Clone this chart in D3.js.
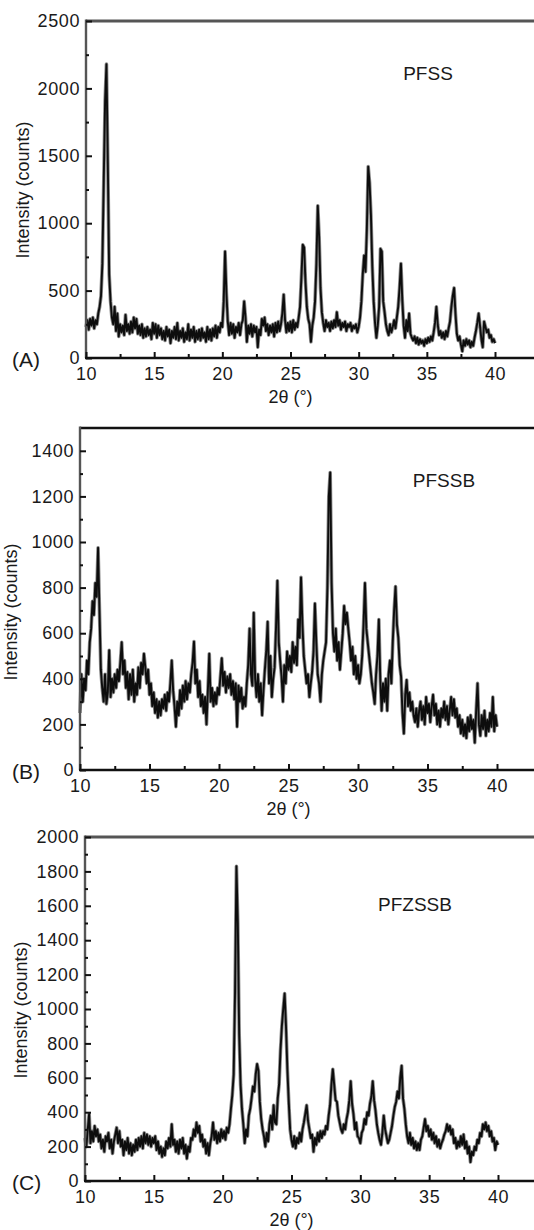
<html>
<head>
<script src="https://d3js.org/d3.v7.min.js"></script>
<style>
  body { margin: 0; background: #fff; }
  svg text { font-family: "Liberation Sans", Arial, Helvetica, sans-serif; fill: #1a1a1a; }
</style>
</head>
<body>
<svg id="chart" width="534" height="1230"></svg>
<script>
// scan grid: 10.0 to 40.0 degrees, 0.1 degree steps
const angleStart = 10;
const angleStep = 0.1;

const countsA = [
  230, 280, 210, 290, 240, 300, 220, 280, 250, 330,
  380, 460, 700, 1300, 1900, 2180, 1450, 620, 420, 300,
  250, 380, 200, 330, 160, 250, 190, 240, 170, 320,
  200, 250, 180, 270, 190, 300, 220, 290, 180, 240,
  170, 250, 150, 220, 160, 230, 170, 210, 140, 260,
  180, 250, 150, 240, 170, 220, 140, 200, 130, 230,
  160, 210, 110, 200, 150, 230, 140, 260, 130, 200,
  150, 220, 120, 190, 140, 250, 130, 210, 150, 230,
  120, 200, 140, 210, 130, 220, 150, 190, 120, 230,
  140, 210, 130, 220, 160, 240, 150, 230, 190, 260,
  230, 420, 790, 480, 270, 170, 260, 180, 250, 150,
  230, 190, 260, 170, 250, 280, 420, 300, 120, 240,
  180, 250, 160, 240, 190, 230, 80, 210, 170, 290,
  240, 300, 200, 250, 170, 240, 190, 250, 160, 260,
  190, 270, 200, 250, 330, 470, 280, 190, 260, 200,
  270, 190, 280, 210, 260, 230, 300, 380, 600, 840,
  820, 560, 380, 290, 250, 120, 240, 300, 420, 700,
  1130, 900, 520, 340, 260, 200, 280, 230, 260, 200,
  270, 220, 280, 230, 340, 240, 280, 210, 260, 230,
  270, 200, 250, 230, 260, 200, 240, 220, 250, 190,
  230, 300, 420, 620, 760, 640, 950, 1420, 1300, 1060,
  680, 420, 260, 150, 240, 380, 810, 790, 420, 340,
  250, 200, 170, 250, 190, 230, 280, 220, 300, 380,
  520, 700, 430, 240, 150, 280, 200, 330, 180, 150,
  130, 160, 110, 150, 100, 140, 110, 130, 90, 140,
  110, 150, 120, 160, 130, 190, 260, 380, 250, 170,
  200, 150, 190, 140, 200, 160, 220, 270, 380, 460,
  520, 330, 180, 130, 160, 100, 50, 130, 90, 140,
  100, 130, 80, 120, 90, 150, 200, 260, 330, 240,
  140, 80, 270, 230, 190, 210, 150, 170, 120, 140,
  110
];

const countsB = [
  250, 420, 300, 400, 350, 480, 420, 560, 620, 740,
  680, 820, 760, 975, 700, 440, 360, 300, 420, 290,
  340, 525, 320, 400, 340, 420, 360, 440, 390, 470,
  560, 420, 480, 360, 430, 310, 420, 330, 440, 300,
  380, 330, 450, 360, 470, 420, 510, 450, 380, 440,
  330, 380, 280, 340, 250, 310, 230, 300, 240, 310,
  270, 330, 260, 340, 300, 380, 480, 350, 280, 190,
  300, 240, 350, 270, 370, 300, 390, 310, 380, 340,
  420, 470, 563, 380, 440, 320, 390, 280, 330, 250,
  320, 200, 350, 510, 300, 360, 280, 340, 290, 360,
  330, 410, 490, 370, 430, 340, 410, 360, 420, 330,
  390, 310, 380, 190, 370, 300, 360, 270, 320, 280,
  380, 460, 620, 420, 370, 690, 400, 320, 420, 300,
  380, 240, 350, 440, 520, 650, 380, 500, 320, 400,
  450, 620, 830, 560, 480, 410, 300, 460, 380, 520,
  440, 500, 430, 560, 470, 540, 460, 660, 580, 845,
  640, 500, 440, 380, 420, 320, 380, 430, 520, 730,
  560, 420, 380, 300, 420, 480, 520, 560, 800, 1200,
  1305, 820, 600, 520, 620, 480, 560, 440, 520, 600,
  720, 640, 690, 620, 560, 480, 540, 420, 500, 400,
  460, 380, 420, 500, 640, 820, 620, 560, 500, 440,
  380, 340, 290, 420, 500, 660, 400, 260, 380, 300,
  400, 260, 420, 480, 380, 560, 700, 805, 640, 580,
  460, 410, 250, 160, 330, 395, 280, 340, 260, 300,
  240, 210, 270, 190, 260, 300, 220, 280, 200, 320,
  250, 290, 210, 280, 330, 240, 290, 200, 260, 190,
  270, 230, 300, 220, 280, 200, 260, 320, 240, 310,
  230, 270, 190, 240, 160, 220, 150, 200, 140, 230,
  170, 240, 180, 220, 120, 260, 380, 200, 150, 240,
  180, 260, 150, 220, 170, 250, 190, 320, 170, 240,
  190
];

const countsC = [
  250, 200, 300, 390, 220, 290, 230, 320, 260, 300,
  230, 270, 190, 240, 170, 260, 230, 280, 190, 240,
  160, 230, 270, 310, 220, 290, 200, 240, 150, 230,
  180, 250, 160, 220, 150, 210, 170, 240, 180, 250,
  200, 260, 190, 280, 220, 270, 210, 260, 200, 250,
  220, 260, 180, 230, 160, 200, 140, 190, 150, 230,
  190, 250, 200, 330, 210, 240, 170, 230, 160, 240,
  190, 250, 160, 210, 130, 200, 170, 250, 240, 300,
  260, 340, 280, 320, 230, 270, 200, 240, 160, 220,
  150, 220, 260, 340, 240, 290, 220, 280, 230, 300,
  250, 290, 240, 310, 280, 330, 420, 500, 620, 1100,
  1830, 1500, 850, 560, 420, 330, 220, 300, 260, 380,
  420, 480, 550, 520, 620, 680, 640, 460, 360, 300,
  260, 200, 280, 230, 330, 380, 300, 440, 340, 330,
  480, 560, 760, 900, 1000, 1090, 900, 650, 460, 300,
  240, 200, 260, 190, 250, 220, 280, 230, 300, 340,
  390, 440, 350, 300, 250, 270, 170, 250, 210, 280,
  230, 290, 250, 290, 270, 320, 300, 380, 440, 560,
  650, 560, 470, 460, 380, 340, 300, 280, 330, 300,
  360, 400, 470, 580, 450, 390, 300, 340, 260, 250,
  220, 280, 300, 360, 330, 400, 380, 450, 490, 580,
  470, 410, 330, 280, 240, 210, 280, 380, 300, 260,
  220, 240, 280, 320, 380, 430, 460, 520, 480, 600,
  670, 480, 420, 330, 260, 220, 280, 210, 250, 190,
  230, 180, 220, 180, 240, 260, 310, 360, 290, 320,
  260, 300, 240, 280, 220, 260, 200, 240, 190, 220,
  240, 270, 290, 330, 290, 320, 270, 300, 220, 250,
  190, 230, 200, 260, 210, 270, 190, 230, 160, 200,
  110, 170, 150, 200, 180, 240, 220, 280, 260, 330,
  300, 340, 290, 320, 260, 290, 230, 250, 180, 230,
  210
];

const xTicks = [10, 15, 20, 25, 30, 35, 40];
const xMinorTicks = [12.5, 17.5, 22.5, 27.5, 32.5, 37.5];
const yTicksA = [0, 500, 1000, 1500, 2000, 2500];
const yMinorA = [250, 750, 1250, 1750, 2250];
const yTicksB = [0, 200, 400, 600, 800, 1000, 1200, 1400];
const yMinorB = [100, 300, 500, 700, 900, 1100, 1300];
const yTicksC = [0, 200, 400, 600, 800, 1000, 1200, 1400, 1600, 1800, 2000];
const yMinorC = [100, 300, 500, 700, 900, 1100, 1300, 1500, 1700, 1900];
const sampleNames = ['PFSS', 'PFSSB', 'PFZSSB'];
const panelTags = ['(A)', '(B)', '(C)'];

const panels = [
  { counts: countsA, yMax: 2500, yTicks: yTicksA, yMinor: yMinorA,
    left: 86, right: 495, top: 21, bottom: 358, topColor: '#555', topWidth: 3.2,
    nameX: 428, nameY: 80, ylabX: 29, ylabY: 190 },
  { counts: countsB, yMax: 1500, yTicks: yTicksB, yMinor: yMinorB,
    left: 80, right: 497, top: 428, bottom: 770, topColor: '#111', topWidth: 2.4,
    nameX: 444, nameY: 487, ylabX: 17, ylabY: 612 },
  { counts: countsC, yMax: 2000, yTicks: yTicksC, yMinor: yMinorC,
    left: 85, right: 498, top: 837, bottom: 1181, topColor: '#555', topWidth: 3.2,
    nameX: 415, nameY: 911, ylabX: 27, ylabY: 1010 }
];

const svg = d3.select('#chart');
const plain = d3.format('d');

panels.forEach(function(p, i) {
  const x = d3.scaleLinear().domain([10, 40]).range([p.left, p.right]);
  const y = d3.scaleLinear().domain([0, p.yMax]).range([p.bottom, p.top]);
  const g = svg.append('g');

  // pattern: grey halo under a dark trace
  const line = d3.line()
    .x(function(d, j) { return x(angleStart + j * angleStep); })
    .y(function(d) { return y(d); });
  g.append('path').datum(p.counts)
    .attr('fill', 'none').attr('stroke', '#8c8c8c').attr('stroke-width', 3.6)
    .attr('stroke-linejoin', 'round').attr('d', line);
  g.append('path').datum(p.counts)
    .attr('fill', 'none').attr('stroke', '#0d0d0d').attr('stroke-width', 1.9)
    .attr('stroke-linejoin', 'round').attr('d', line);

  // frame: top, left, bottom
  g.append('line').attr('x1', p.left).attr('x2', 534).attr('y1', p.top).attr('y2', p.top)
    .attr('stroke', p.topColor).attr('stroke-width', p.topWidth);
  g.append('line').attr('x1', p.left).attr('x2', p.left).attr('y1', p.top - 1.5).attr('y2', p.bottom)
    .attr('stroke', '#555').attr('stroke-width', 2.4);
  g.append('line').attr('x1', p.left - 1).attr('x2', 534).attr('y1', p.bottom).attr('y2', p.bottom)
    .attr('stroke', '#111').attr('stroke-width', 2.4);

  // x axis ticks (inward)
  const xAxis = g.append('g').attr('transform', `translate(0,${p.bottom})`)
    .call(d3.axisBottom(x).tickValues(xTicks).tickSize(-6).tickPadding(9).tickFormat(plain));
  xAxis.select('.domain').remove();
  xAxis.selectAll('text').attr('font-size', 18).attr('letter-spacing', 0.6).attr('fill', '#1a1a1a')
    .attr('font-family', '"Liberation Sans", Arial, sans-serif');
  xAxis.selectAll('line').attr('stroke', '#111').attr('stroke-width', 2);
  const xMinor = g.append('g').attr('transform', `translate(0,${p.bottom})`)
    .call(d3.axisBottom(x).tickValues(xMinorTicks).tickSize(-4).tickFormat(''));
  xMinor.select('.domain').remove();
  xMinor.selectAll('line').attr('stroke', '#111').attr('stroke-width', 2);

  // y axis ticks (inward)
  const yAxis = g.append('g').attr('transform', `translate(${p.left},0)`)
    .call(d3.axisLeft(y).tickValues(p.yTicks).tickSize(-6).tickPadding(6).tickFormat(plain));
  yAxis.select('.domain').remove();
  yAxis.selectAll('text').attr('font-size', 18).attr('letter-spacing', 0.6).attr('fill', '#1a1a1a')
    .attr('font-family', '"Liberation Sans", Arial, sans-serif');
  yAxis.selectAll('line').attr('stroke', '#111').attr('stroke-width', 2);
  const yMinor = g.append('g').attr('transform', `translate(${p.left},0)`)
    .call(d3.axisLeft(y).tickValues(p.yMinor).tickSize(-3).tickFormat(''));
  yMinor.select('.domain').remove();
  yMinor.selectAll('line').attr('stroke', '#111').attr('stroke-width', 2);

  // titles
  g.append('text').attr('x', (p.left + p.right) / 2).attr('y', p.bottom + 45)
    .attr('text-anchor', 'middle').attr('font-size', 18).text('2θ (°)');
  g.append('text').attr('transform', `translate(${p.ylabX},${p.ylabY}) rotate(-90)`)
    .attr('text-anchor', 'middle').attr('font-size', 18).text('Intensity (counts)');
  g.append('text').attr('x', p.nameX).attr('y', p.nameY)
    .attr('text-anchor', 'middle').attr('font-size', 19).text(sampleNames[i]);
  g.append('text').attr('x', 12).attr('y', p.bottom + 9)
    .attr('font-size', 21).text(panelTags[i]);
});
</script>
</body>
</html>
